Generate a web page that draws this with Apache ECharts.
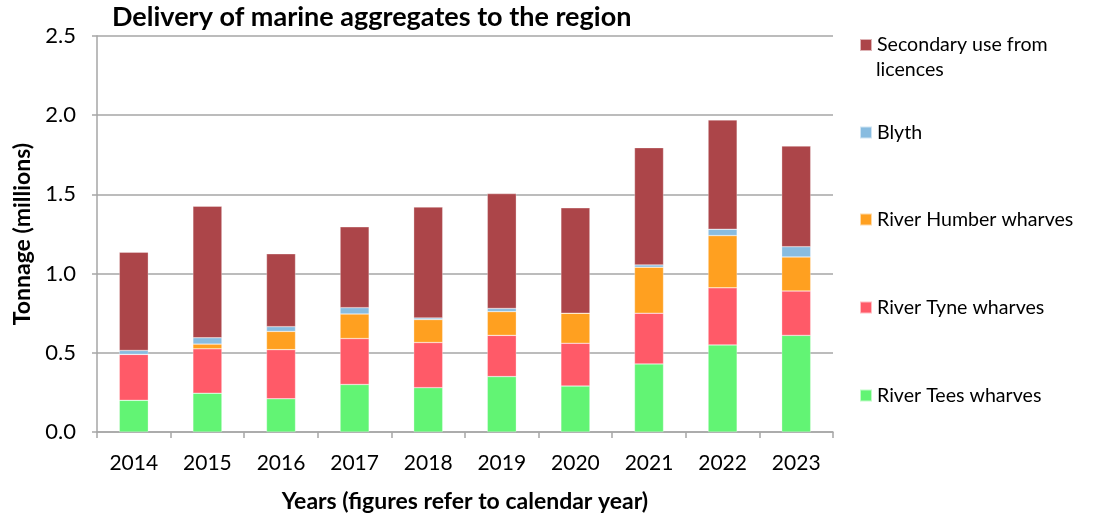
<!DOCTYPE html>
<html>
<head>
<meta charset="utf-8">
<script src="https://cdn.jsdelivr.net/npm/echarts@6/dist/echarts.min.js"></script>
<style>
  html, body { margin: 0; padding: 0; background: #fff; }
  #chart { width: 1093px; height: 515px; }
</style>
</head>
<body>
<div id="chart"></div>
<script>
// values (millions of tonnes, stacked)
const years = ['2014', '2015', '2016', '2017', '2018', '2019', '2020', '2021', '2022', '2023']
const tees = [0.20, 0.245, 0.21, 0.30, 0.28, 0.35, 0.29, 0.43, 0.55, 0.61]
const tyne = [0.29, 0.28, 0.31, 0.29, 0.285, 0.26, 0.27, 0.32, 0.36, 0.28]
const humber = [0, 0.03, 0.115, 0.155, 0.145, 0.15, 0.19, 0.29, 0.33, 0.215]
const blyth = [0.025, 0.04, 0.03, 0.04, 0.01, 0.02, 0, 0.015, 0.04, 0.065]
const secondary = [0.62, 0.83, 0.46, 0.51, 0.70, 0.725, 0.665, 0.74, 0.69, 0.635]
const yTicks = [0, 0.5, 1.0, 1.5, 2.0, 2.5]

const font = 'Lato, "Liberation Sans", sans-serif'
const gray = '#A6A6A6'

const names = {
  tees: 'River Tees wharves',
  tyne: 'River Tyne wharves',
  humber: 'River Humber wharves',
  blyth: 'Blyth',
  secondary: 'Secondary use from licences'
}
const colors = {
  tees: '#62F474',
  tyne: '#FF5A68',
  humber: '#FFA020',
  blyth: '#88BCE0',
  secondary: '#AC4549'
}

function bar(key, data) {
  return {
    name: names[key],
    type: 'bar',
    stack: 'total',
    barWidth: 29,
    data: data,
    itemStyle: {
      color: colors[key],
      borderColor: 'rgba(255,255,255,0.6)',
      borderWidth: 0.5
    }
  }
}

function legendItem(key, top, extra) {
  return Object.assign({
    orient: 'vertical',
    left: 859,
    top: top,
    padding: 0,
    icon: 'rect',
    itemWidth: 12,
    itemHeight: 12,
    itemGap: 0,
    selectedMode: false,
    data: [names[key]],
    textStyle: {
      fontFamily: font,
      fontSize: 19.6,
      color: '#000',
      lineHeight: 25
    }
  }, extra || {})
}

var myChart = echarts.init(document.getElementById('chart'))
myChart.setOption({
  animation: false,
  backgroundColor: '#fff',
  title: {
    text: 'Delivery of marine aggregates to the region',
    left: 112,
    top: 4,
    padding: 0,
    textStyle: {
      fontFamily: font,
      fontSize: 27,
      fontWeight: 'bold',
      color: '#000'
    }
  },
  legend: [
    // long name wraps: first line in the legend, second line as text below
    legendItem('secondary', 32.5, {
      formatter: function () {
        return 'Secondary use from'
      }
    }),
    legendItem('blyth', 120),
    legendItem('humber', 207),
    legendItem('tyne', 295),
    legendItem('tees', 383)
  ],
  graphic: [
    {
      type: 'text',
      x: 876,
      y: 70,
      silent: true,
      style: {
        text: 'licences',
        fontFamily: font,
        fontSize: 19.6,
        fill: '#000',
        verticalAlign: 'middle'
      }
    }
  ],
  grid: {
    left: 97,
    right: 260,
    top: 36,
    bottom: 83,
    outerBoundsMode: 'none'
  },
  xAxis: {
    type: 'category',
    data: years,
    name: 'Years (figures refer to calendar year)',
    nameLocation: 'middle',
    nameGap: 58,
    nameTextStyle: {
      fontFamily: font,
      fontSize: 23,
      fontWeight: 'bold',
      color: '#000'
    },
    axisLine: { lineStyle: { color: gray, width: 1.5 } },
    axisTick: { show: true, length: 6, lineStyle: { color: gray, width: 1.5 } },
    axisLabel: {
      fontFamily: font,
      fontSize: 21,
      color: '#000',
      margin: 21
    }
  },
  yAxis: {
    type: 'value',
    min: yTicks[0],
    max: yTicks[yTicks.length - 1],
    interval: 0.5,
    name: 'Tonnage (millions)',
    nameLocation: 'middle',
    nameGap: 54,
    nameTextStyle: {
      fontFamily: font,
      fontSize: 23,
      fontWeight: 'bold',
      color: '#000'
    },
    axisLine: { show: true, lineStyle: { color: gray, width: 1.5 } },
    axisTick: { show: true, length: 5, lineStyle: { color: gray, width: 1.5 } },
    axisLabel: {
      fontFamily: font,
      fontSize: 22,
      color: '#000',
      margin: 21,
      formatter: function (v) {
        return v.toFixed(1)
      }
    },
    splitLine: { lineStyle: { color: gray, width: 1.5 } }
  },
  series: [
    bar('tees', tees),
    bar('tyne', tyne),
    bar('humber', humber),
    bar('blyth', blyth),
    bar('secondary', secondary)
  ]
})
</script>
</body>
</html>
